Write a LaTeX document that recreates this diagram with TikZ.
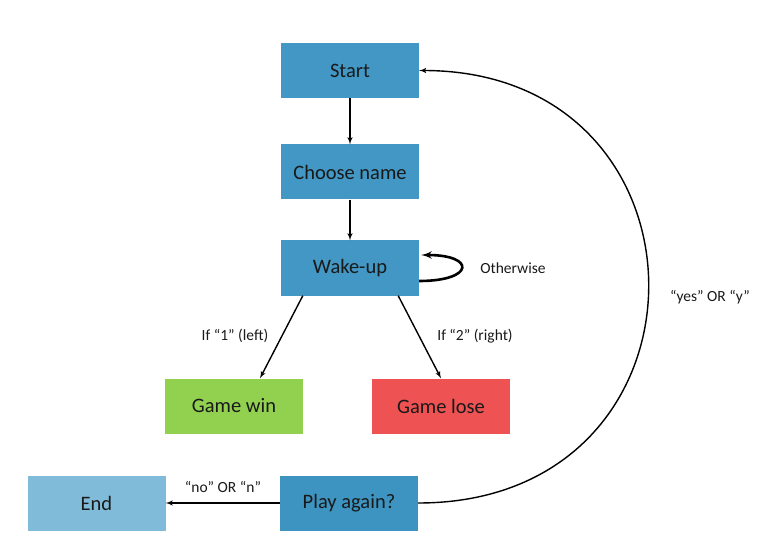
\documentclass[tikz,border=0pt]{standalone}
\usepackage{fontspec}
\setmainfont{Carlito}
\usepackage{tikz}
\usetikzlibrary{arrows, positioning, calc}

\definecolor{stepblue}{HTML}{4297C4}
\definecolor{againblue}{HTML}{3D94C1}
\definecolor{endblue}{HTML}{80BBDA}
\definecolor{wingreen}{HTML}{92D050}
\definecolor{losered}{HTML}{EE5253}

\begin{document}
\begin{tikzpicture}[x=1pt, y=-1pt,
	box/.style={rectangle, minimum width=138pt, minimum height=55pt, inner sep=0pt, text=black!90, font=\fontsize{20.5}{24}\selectfont},
	flow/.style={-latex', line width=1.4pt},
	lbl/.style={font=\fontsize{15.5}{18}\selectfont, text=black!90}]
	\useasboundingbox (0,0) rectangle (774,548);
	\node[box, fill=stepblue] (start) at (350,70.5) {Start};
	\node[box, fill=stepblue] (name) at (350,172) {Choose name};
	\node[box, fill=stepblue] (wake) at (350,268) {Wake-up};
	\node[box, fill=wingreen] (win) at (234,406) {Game win};
	\node[box, fill=losered] (lose) at (441,406) {Game lose};
	\node[box, fill=endblue] (end) at (96.5,503) {End};
	\node[box, fill=againblue] (again) at (349,503) {Play again?};

	\draw[flow] (start.south) -- (name.north);
	\draw[flow] (name.south) -- (wake.north);
	\draw[flow] ($(wake.south west)+(22,0)$) -- ($(win.north)+(26,0)$);
	\draw[flow] ($(wake.south east)+(-21,0)$) -- (lose.north);
	\draw[-latex', line width=2.6pt] ($(wake.east)+(0,13)$) .. controls +(55,0) and +(55,0) .. ($(wake.east)+(2,-13)$);
	\draw[flow] (again.west) -- (end.east);
	\draw[flow] (again.east) .. controls +(307,0) and +(305,0) .. (start.east);

	\node[lbl] (l1) at (235,336) {If “1” (left)};
	\node[lbl] (l2) at (475,336) {If “2” (right)};
	\node[lbl] (l3) at (513,268) {Otherwise};
	\node[lbl] (l4) at (710,297) {“yes” OR “y”};
	\node[lbl] (l5) at (223,487) {“no” OR “n”};
\end{tikzpicture}
\end{document}
